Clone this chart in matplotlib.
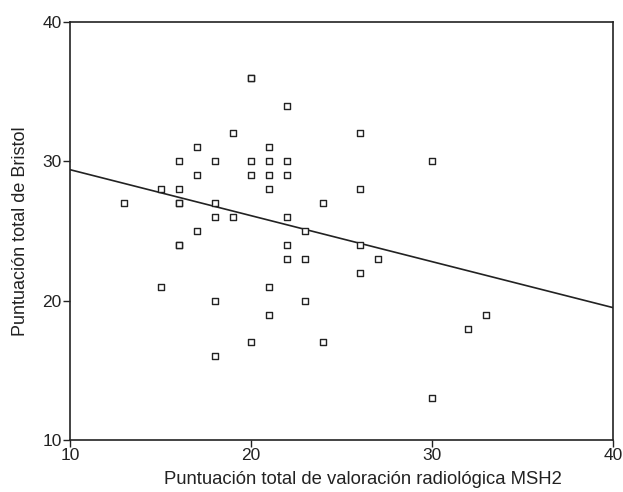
import numpy as np
import matplotlib
matplotlib.use('Agg')
import matplotlib.pyplot as plt

# Puntuacion MSH2 (x) vs Bristol (y)
msh2 = [13, 15, 15, 16, 16, 16, 16, 16, 16, 17, 17, 17,
        18, 18, 18, 18, 18, 19, 19, 20, 20, 20, 20, 20,
        21, 21, 21, 21, 21, 21, 22, 22, 22, 22, 22, 22,
        23, 23, 23, 24, 24, 26, 26, 26, 26, 27, 30, 30, 32, 33]
bristol = [27, 28, 21, 30, 28, 27, 27, 24, 24, 31, 29, 25,
           30, 27, 26, 20, 16, 32, 26, 36, 36, 30, 29, 17,
           31, 30, 29, 28, 21, 19, 34, 30, 29, 26, 24, 23,
           25, 23, 20, 27, 17, 32, 28, 24, 22, 23, 30, 13, 18, 19]

# recta de regresion
fit_x = [10, 40]
fit_y = [29.4, 19.5]


def main():
    plt.rcParams['font.family'] = ['Liberation Sans', 'DejaVu Sans']
    fig = plt.figure(figsize=(6.23, 4.92), dpi=100)
    ax = fig.add_axes([0.1124, 0.1057, 0.8716, 0.8496])

    ax.scatter(msh2, bristol, marker='s', s=22, facecolors='white',
               edgecolors='#222222', linewidths=1.0, zorder=3)
    ax.plot(fit_x, fit_y, color='#222222', linewidth=1.2)

    ax.set_xlim(10, 40)
    ax.set_ylim(10, 40)
    ax.set_xticks([10, 20, 30, 40])
    ax.set_yticks([10, 20, 30, 40])
    ax.tick_params(direction='out', length=5, width=1, labelsize=12.5,
                   pad=1, colors='#222222')
    for s in ax.spines.values():
        s.set_linewidth(1.2)
        s.set_color('#222222')

    ax.set_xlabel('Puntuación total de valoración radiológica MSH2',
                  fontsize=13.3, color='#222222')
    ax.set_ylabel('Puntuación total de Bristol', fontsize=13,
                  color='#222222')
    ax.xaxis.set_label_coords(0.54, -0.074)
    ax.yaxis.set_label_coords(-0.076, 0.5)

    plt.savefig('out.png', dpi=100)


if __name__ == '__main__':
    main()
